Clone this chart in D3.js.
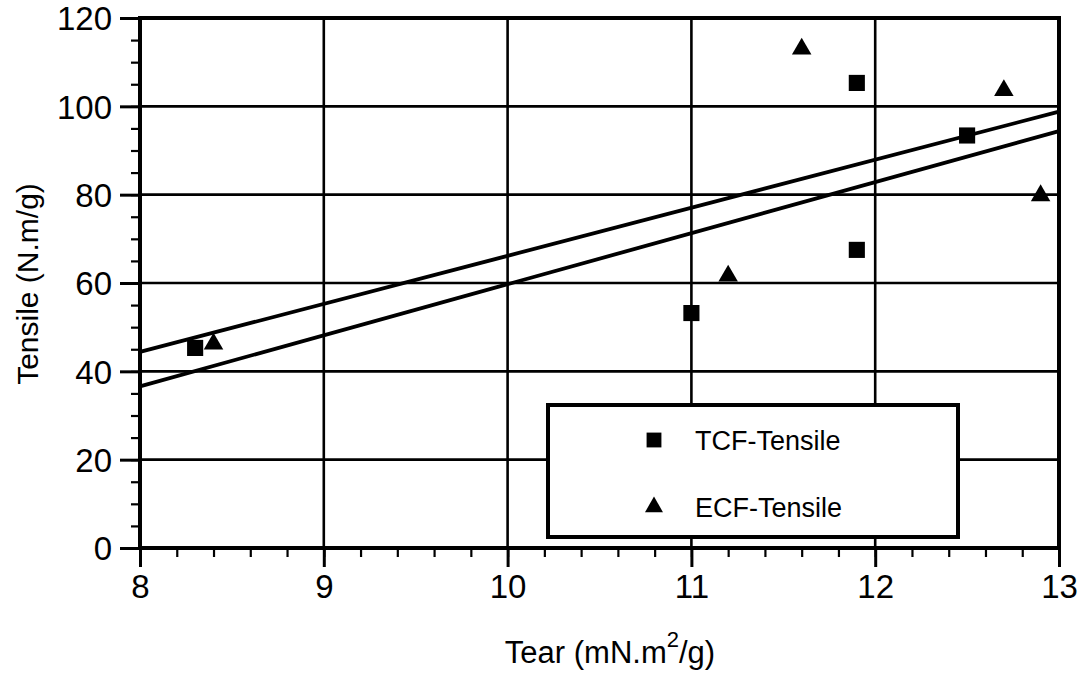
<!DOCTYPE html>
<html>
<head>
<meta charset="utf-8">
<script src="https://cdnjs.cloudflare.com/ajax/libs/d3/7.8.5/d3.min.js"></script>
<style>
body { margin: 0; background: #fff; }
text { font-family: "Liberation Sans", Arial, sans-serif; fill: #000; }
</style>
</head>
<body>
<script>
// tear (mN.m2/g) vs tensile (N.m/g)
var tcfTear = [8.3, 11.0, 11.9, 11.9, 12.5];
var tcfTensile = [45.3, 53.2, 67.5, 105.3, 93.4];
var ecfTear = [8.4, 11.2, 11.6, 12.7, 12.9];
var ecfTensile = [46.2, 61.6, 113, 103.6, 79.8];
// fitted lines, value at x = 8 and x = 13
var fitX = [8, 13];
var fitUpper = [44.4, 98.8];
var fitLower = [36.6, 94.4];
var xTicks = [8, 9, 10, 11, 12, 13];
var yTicks = [0, 20, 40, 60, 80, 100, 120];
var legendNames = ["TCF-Tensile", "ECF-Tensile"];

var margin = {top: 18, right: 26, bottom: 130, left: 140},
    width = 1085 - margin.left - margin.right,
    height = 678 - margin.top - margin.bottom;

var svg = d3.select("body").append("svg")
    .attr("width", 1085).attr("height", 678);
var g = svg.append("g")
    .attr("transform", `translate(${margin.left},${margin.top})`);

var x = d3.scaleLinear().domain([8, 13]).range([0, width]);
var y = d3.scaleLinear().domain([0, 120]).range([height, 0]);

// grid
g.selectAll(".vgrid").data(xTicks).enter().append("line")
    .attr("x1", d => x(d)).attr("x2", d => x(d))
    .attr("y1", 0).attr("y2", height)
    .attr("stroke", "#000").attr("stroke-width", 2.6);
g.selectAll(".hgrid").data(yTicks).enter().append("line")
    .attr("x1", 0).attr("x2", width)
    .attr("y1", d => y(d)).attr("y2", d => y(d))
    .attr("stroke", "#000").attr("stroke-width", 2.6);

// minor ticks
var xMinor = d3.range(8, 13.001, 0.2);
var yMinor = d3.range(0, 120.001, 5);
g.append("g").attr("transform", `translate(0,${height})`)
    .call(d3.axisBottom(x).tickValues(xMinor).tickSize(9).tickFormat(""))
    .call(a => a.select(".domain").remove())
    .selectAll("line").attr("stroke-width", 2.2);
g.append("g")
    .call(d3.axisLeft(y).tickValues(yMinor).tickSize(9).tickFormat(""))
    .call(a => a.select(".domain").remove())
    .selectAll("line").attr("stroke-width", 2.2);

// major axes
var xAxis = g.append("g").attr("transform", `translate(0,${height})`)
    .call(d3.axisBottom(x).tickValues(xTicks).tickSize(19).tickPadding(8).tickFormat(d3.format("d")));
xAxis.select(".domain").remove();
xAxis.selectAll("line").attr("stroke-width", 3);
xAxis.selectAll("text").style("font-size", "33px");

var yAxis = g.append("g")
    .call(d3.axisLeft(y).tickValues(yTicks).tickSize(20).tickPadding(8));
yAxis.select(".domain").remove();
yAxis.selectAll("line").attr("stroke-width", 3);
yAxis.selectAll("text").style("font-size", "33px").attr("dy", "0.36em");

// frame
g.append("rect").attr("width", width).attr("height", height)
    .attr("fill", "none").attr("stroke", "#000").attr("stroke-width", 4);

// fitted lines
var fits = [fitUpper, fitLower];
g.selectAll(".fit").data(fits).enter().append("path")
    .attr("fill", "none").attr("stroke", "#000").attr("stroke-width", 3.8)
    .attr("d", d => d3.line().x((v, i) => x(fitX[i])).y(v => y(v))(d));

// points
var sq = d3.symbol().type(d3.symbolSquare).size(260);
var tri = d3.symbol().type(d3.symbolTriangle).size(165);
g.selectAll(".tcf").data(tcfTear).enter().append("path")
    .attr("d", sq)
    .attr("transform", (d, i) => `translate(${x(d)},${y(tcfTensile[i])})`);
g.selectAll(".ecf").data(ecfTear).enter().append("path")
    .attr("d", tri)
    .attr("transform", (d, i) => `translate(${x(d)},${y(ecfTensile[i])})`);

// legend
var lg = svg.append("g").attr("transform", "translate(548,405)");
lg.append("rect").attr("width", 410).attr("height", 132)
    .attr("fill", "#fff").attr("stroke", "#000").attr("stroke-width", 4);
lg.append("path").attr("d", d3.symbol().type(d3.symbolSquare).size(220))
    .attr("transform", "translate(106,35)");
lg.append("path").attr("d", d3.symbol().type(d3.symbolTriangle).size(140))
    .attr("transform", "translate(106,102)");
lg.selectAll(".lt").data(legendNames).enter().append("text")
    .attr("x", 147).attr("y", (d, i) => 35 + i * 67)
    .attr("dy", "0.36em")
    .style("font-size", "27px")
    .text(d => d);

// axis titles
svg.append("text")
    .attr("transform", "translate(38,284) rotate(-90)")
    .attr("text-anchor", "middle")
    .style("font-size", "30px")
    .text("Tensile (N.m/g)");
var xt = svg.append("text")
    .attr("x", 610).attr("y", 663)
    .attr("text-anchor", "middle")
    .style("font-size", "31px");
xt.append("tspan").text("Tear (mN.m");
xt.append("tspan").attr("dy", -16).style("font-size", "22px").text("2");
xt.append("tspan").attr("dy", 16).text("/g)");
</script>
</body>
</html>
